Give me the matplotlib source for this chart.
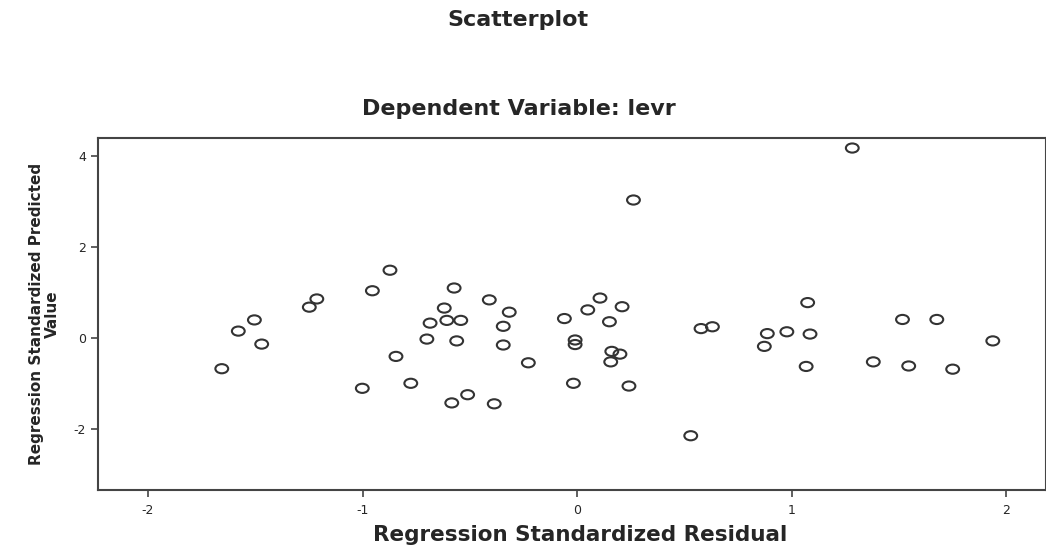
import matplotlib
matplotlib.use('Agg')
import matplotlib.pyplot as plt
from matplotlib.path import Path
from matplotlib.transforms import Affine2D

# regression standardized residual (x) vs standardized predicted value (y)
residual = [-1.213, -1.248, -1.504, -1.579, -1.47, -1.656,
            0.263, -0.872, -0.954, -0.573, -0.409, -0.619, -0.316, -0.685,
            -0.607, -0.542, -0.344, -0.70, -0.561, -0.344, -0.844, -0.227,
            -1.001, -0.775, -0.51, -0.584, -0.386, 0.107, 0.05, 0.21,
            -0.059, 0.151, -0.009, -0.009, 0.162, 0.20, 0.157, -0.017,
            0.242, 0.530,
            1.283, 1.075, 0.578, 0.631, 0.887, 0.978, 1.086, 0.873, 1.068,
            1.517, 1.677, 1.938, 1.381, 1.546, 1.751]
predicted = [0.86, 0.68, 0.40, 0.155, -0.13, -0.67,
             3.03, 1.49, 1.04, 1.10, 0.84, 0.66, 0.57, 0.33,
             0.39, 0.39, 0.26, -0.02, -0.06, -0.15, -0.40, -0.54,
             -1.10, -0.99, -1.24, -1.42, -1.44, 0.88, 0.62, 0.69,
             0.43, 0.36, -0.04, -0.14, -0.29, -0.35, -0.52, -0.99,
             -1.05, -2.14,
             4.17, 0.78, 0.21, 0.25, 0.10, 0.14, 0.09, -0.18, -0.62,
             0.41, 0.41, -0.06, -0.52, -0.61, -0.68]

x_ticks = [-2, -1, 0, 1, 2]
y_ticks = [-2, 0, 2, 4]

DPI = 100
INK = '#262626'
fig = plt.figure(figsize=(1046 / DPI, 556 / DPI), dpi=DPI)
ax = fig.add_axes([98 / 1046, 1 - 490 / 556, 948 / 1046, 352 / 556])

# the scan is stretched sideways, so the open circles come out as wide ellipses
oval = Path.unit_circle().transformed(Affine2D().scale(1.4, 1.0))
ax.scatter(residual, predicted, s=85, marker=oval, facecolors='none',
           edgecolors='#333333', linewidths=1.5)

ax.set_xlim(-2.233, 2.186)
ax.set_ylim(-3.33, 4.39)
ax.set_xticks(x_ticks)
ax.set_yticks(y_ticks)
ax.set_xticklabels([str(t) for t in x_ticks])
ax.set_yticklabels([str(t) for t in y_ticks])
ax.tick_params(direction='out', length=5, width=1.2, colors='#444444',
               labelcolor=INK, labelsize=9, top=False, right=False)
ax.tick_params(axis='x', pad=5)
for sp in ax.spines.values():
    sp.set_color('#444444')
    sp.set_linewidth(1.5)

ax.set_xlabel('Regression Standardized Residual', fontsize=15.5, fontweight='bold',
              family='DejaVu Sans', color=INK)
ax.xaxis.set_label_coords(0.509, -0.10)
ax.set_ylabel('Regression Standardized Predicted\nValue', fontsize=11, fontweight='bold',
              family='DejaVu Sans', linespacing=1.1, color=INK)
ax.yaxis.set_label_coords(-0.040, 0.5)

fig.text(0.495, 0.964, 'Scatterplot', ha='center', va='center', fontsize=16,
         fontweight='bold', family='DejaVu Sans', color=INK)
fig.text(0.496, 0.804, 'Dependent Variable: levr', ha='center', va='center', fontsize=16,
         fontweight='bold', family='DejaVu Sans', color=INK)

fig.savefig('out.png', dpi=DPI)
